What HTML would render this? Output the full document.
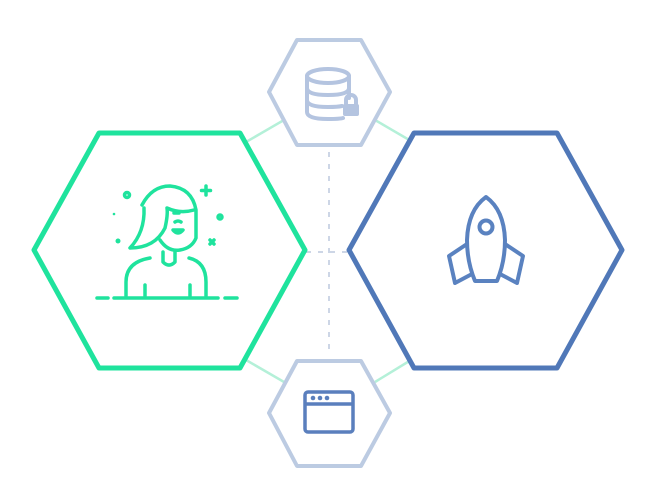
<!DOCTYPE html>
<html><head><style>html,body{margin:0;padding:0;background:#fff;}svg{display:block}</style></head>
<body>
<svg width="650" height="501" viewBox="0 0 650 501" xmlns="http://www.w3.org/2000/svg">
<g stroke="#b4f0d8" stroke-width="2.5">
<line x1="246" y1="142" x2="284" y2="120"/>
<line x1="375" y1="120" x2="411" y2="141"/>
<line x1="246" y1="360" x2="284" y2="382"/>
<line x1="375" y1="382" x2="411" y2="360"/>
</g>
<g stroke="#cdd6e6" stroke-width="2" stroke-dasharray="5,7">
<line x1="329" y1="152" x2="329" y2="356"/>
<line x1="306" y1="252" x2="348" y2="252"/>
</g>
<polygon points="297,40 361,40 390,92 361,145 297,145 269,92" fill="#fff" stroke="#bccbe2" stroke-width="4" stroke-linejoin="round"/>
<polygon points="297,361 361,361 390,413 361,466 297,466 269,413" fill="#fff" stroke="#bccbe2" stroke-width="4" stroke-linejoin="round"/>
<polygon points="99,133 240,133 305,250 240,368 99,368 34,250" fill="none" stroke="#1fe39d" stroke-width="5" stroke-linejoin="round"/>
<polygon points="414,133 557,133 622,250 557,368 414,368 349,250" fill="none" stroke="#5078b8" stroke-width="5" stroke-linejoin="round"/>
<!-- database -->
<g fill="none" stroke="#b4c4e0" stroke-width="4" stroke-linecap="round">
<ellipse cx="328" cy="76" rx="21" ry="7"/>
<path d="M307 76 V112 Q307 119 328 119 Q340 119 343 118"/>
<path d="M349 76 V98"/>
<path d="M307 88 Q307 95 328 95 Q349 95 349 88"/>
<path d="M307 100 Q307 107 328 107 Q338 107 342 106"/>
<path d="M346 104 V100 A5 5 0 0 1 356 100 V104"/>
</g>
<rect x="343" y="104" width="16" height="12" rx="2" fill="#b4c4e0"/>
<!-- browser -->
<g fill="none" stroke="#5a7fbd" stroke-width="3.5">
<rect x="305" y="392" width="48" height="40" rx="3"/>
<line x1="305" y1="404" x2="353" y2="404"/>
</g>
<g fill="#5a7fbd"><circle cx="313" cy="398" r="2.3"/><circle cx="320" cy="398" r="2.3"/><circle cx="327" cy="398" r="2.3"/></g>
<!-- rocket -->
<g fill="none" stroke="#5a82c0" stroke-width="4" stroke-linejoin="round">
<path d="M486 197 Q468 210 467 240 Q467 262 475 281 H497 Q505 262 505 240 Q504 210 486 197 Z"/>
<circle cx="486" cy="227" r="6.5"/>
<path d="M467 244 L449 256 L455 283 L472 274"/>
<path d="M505 244 L523 256 L517 283 L500 274"/>
</g>
<!-- person -->
<g fill="none" stroke="#1fe39d" stroke-width="3.5" stroke-linecap="round" stroke-linejoin="round">
<line x1="97" y1="298" x2="108" y2="298"/>
<line x1="114" y1="298" x2="218" y2="298"/>
<line x1="225" y1="298" x2="237" y2="298"/>
<path d="M126 296 V282 Q126 262 150 258 M189 258 Q206 262 206 282 V296"/>
<line x1="145" y1="285" x2="145" y2="296"/>
<line x1="190" y1="285" x2="190" y2="296"/>
<path d="M163 252 V262 Q169 268 175 262 V252"/>
<path d="M142 205 Q152 186 170 186 Q192 188 196 210 V238 Q192 248 180 250 Q168 252 160 240"/>
<path d="M144 208 Q145 232 130 248 Q155 248 165 228 Q168 215 167 208 Q180 214 194 210"/>
<path d="M173 230 Q178 236 183 230 Z"/>
<path d="M175 222 Q178 220 181 222"/>
<line x1="174" y1="213" x2="179" y2="213"/>
<circle cx="127" cy="195" r="2.5"/>
<circle cx="220" cy="217" r="2"/>
<path d="M206 186 V195 M201.5 190.5 H210.5"/>
<path d="M210 240 L214 244 M214 240 L210 244"/>
</g>
<circle cx="114" cy="214" r="1.3" fill="#1fe39d"/>
<circle cx="118" cy="241" r="2.5" fill="#1fe39d"/>
</svg>
</body></html>
